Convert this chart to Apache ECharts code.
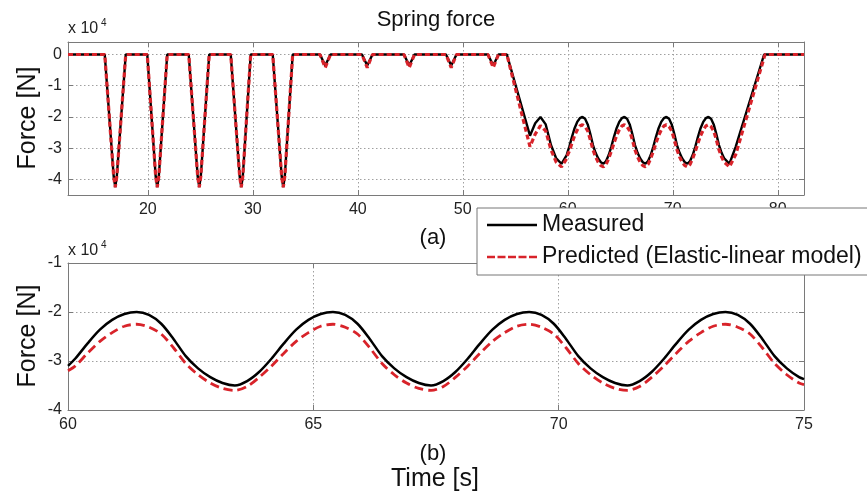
<!DOCTYPE html>
<html>
<head>
<meta charset="utf-8">
<script src="https://cdn.jsdelivr.net/npm/echarts@6/dist/echarts.min.js"></script>
<style>
  html, body { margin: 0; padding: 0; background: #fff; }
  #main { width: 867px; height: 497px; }
</style>
</head>
<body>
<div id="main"></div>
<script>
// Spring force record, values in units of 10^4 N, time in s.

// Part of the record before the zoomed window (12.4 s – 59.9 s)
const earlyTime = [12.4, 15.9, 16.75, 16.9, 17.05, 17.9, 19.95, 20.75, 20.9, 21.05, 21.85,
  23.9, 24.75, 24.9, 25.05, 25.85, 27.9, 28.75, 28.9, 29.05, 29.8, 31.9, 32.75, 32.9, 33.05, 33.8,
  36.4, 36.9, 37.4, 40.4, 40.9, 41.4, 44.4, 44.9, 45.4, 48.4, 48.9, 49.4, 52.4, 52.9, 53.4,
  54.2, 56.4, 56.9, 57.4, 57.9, 58.4, 58.9, 59.4, 59.9];
const earlyMeasured = [0, 0, -3.9, -4.25, -3.9, 0, 0, -3.9, -4.25, -3.9, 0,
  0, -3.9, -4.25, -3.9, 0, 0, -3.9, -4.25, -3.9, 0, 0, -3.9, -4.25, -3.9, 0,
  0, -0.35, 0, 0, -0.35, 0, 0, -0.35, 0, 0, -0.35, 0, 0, -0.35, 0,
  0, -2.6, -2.2, -2.0, -2.24, -2.9, -3.33, -3.5, -3.22];
const earlyPredicted = [0, 0, -3.9, -4.25, -3.9, 0, 0, -3.9, -4.25, -3.9, 0,
  0, -3.9, -4.25, -3.9, 0, 0, -3.9, -4.25, -3.9, 0, 0, -3.9, -4.25, -3.9, 0,
  0, -0.42, 0, 0, -0.42, 0, 0, -0.42, 0, 0, -0.42, 0, 0, -0.42, 0,
  0, -2.95, -2.55, -2.28, -2.45, -3.05, -3.45, -3.6, -3.33];

// Zoomed window (60 s – 75 s), shown in panel (b)
const zoomTime = [60, 60.15, 60.4, 60.65, 60.9, 61.15, 61.4, 61.65, 61.9, 62.15, 62.4, 62.65,
  62.9, 63.15, 63.4, 63.65, 63.9, 64.15, 64.4, 64.65, 64.9, 65.15, 65.4, 65.65, 65.9, 66.15,
  66.4, 66.65, 66.9, 67.15, 67.4, 67.65, 67.9, 68.15, 68.4, 68.65, 68.9, 69.15, 69.4, 69.65,
  69.9, 70.15, 70.4, 70.65, 70.9, 71.15, 71.4, 71.65, 71.9, 72.15, 72.4, 72.65, 72.9, 73.15,
  73.4, 73.65, 73.9, 74.15, 74.4, 74.65, 74.9, 75];
const zoomMeasured = [-3.10, -2.95, -2.64, -2.36, -2.16, -2.04,
  -2.00, -2.06, -2.24, -2.55, -2.90, -3.15, -3.33, -3.45, -3.50, -3.41, -3.22, -2.95, -2.64, -2.36, -2.16, -2.04,
  -2.00, -2.06, -2.24, -2.55, -2.90, -3.15, -3.33, -3.45, -3.50, -3.41, -3.22, -2.95, -2.64, -2.36, -2.16, -2.04,
  -2.00, -2.06, -2.24, -2.55, -2.90, -3.15, -3.33, -3.45, -3.50, -3.41, -3.22, -2.95, -2.64, -2.36, -2.16, -2.04,
  -2.00, -2.06, -2.24, -2.55, -2.90, -3.15, -3.33, -3.37];
const zoomPredicted = [-3.20, -3.10, -2.84, -2.60, -2.42, -2.29,
  -2.25, -2.31, -2.45, -2.73, -3.05, -3.28, -3.45, -3.56, -3.60, -3.52, -3.33, -3.10, -2.84, -2.60, -2.42, -2.29,
  -2.25, -2.31, -2.45, -2.73, -3.05, -3.28, -3.45, -3.56, -3.60, -3.52, -3.33, -3.10, -2.84, -2.60, -2.42, -2.29,
  -2.25, -2.31, -2.45, -2.73, -3.05, -3.28, -3.45, -3.56, -3.60, -3.52, -3.33, -3.10, -2.84, -2.60, -2.42, -2.29,
  -2.25, -2.31, -2.45, -2.73, -3.05, -3.28, -3.45, -3.48];

// Part after the zoomed window (75.4 s – 82.5 s)
const lateTime = [75.4, 76.0, 78.7, 78.8, 82.5];
const lateMeasured = [-3.5, -2.95, 0, 0, 0];
const latePredicted = [-3.6, -3.2, -0.1, 0, 0];

const seriesNames = ['Measured', 'Predicted (Elastic-linear model)'];

const FONT = "'Liberation Sans', Arial, Helvetica, sans-serif";
const RED = '#d8232a';
const AXIS_GREY = '#7a7a7a';

// Legend keys: a solid bar and a dashed bar, 50 px long
const SOLID_KEY = 'path://M0,0h50v2.6h-50z';
const DASHED_KEY = 'path://M0,0h8v2.6h-8z M10.5,0h8v2.6h-8z M21,0h8v2.6h-8z M31.5,0h8v2.6h-8z M42,0h8v2.6h-8z';

const pairs = (t, v) => t.map((x, i) => [x, v[i]]);
const fullMeasured = pairs(earlyTime, earlyMeasured)
  .concat(pairs(zoomTime, zoomMeasured), pairs(lateTime, lateMeasured));
const fullPredicted = pairs(earlyTime, earlyPredicted)
  .concat(pairs(zoomTime, zoomPredicted), pairs(lateTime, latePredicted));

const gridLine = { show: true, lineStyle: { color: '#a0a0a0', width: 1, type: [1.5, 2.5] } };
const axisLine = { show: true, onZero: false, lineStyle: { color: AXIS_GREY, width: 1 } };
const tick = { show: true, inside: true, length: 5, lineStyle: { color: AXIS_GREY } };
const label = { color: '#222', fontSize: 16, fontFamily: FONT };

function mainAxis(gridIndex, position, range, extra) {
  return Object.assign({
    type: 'value', gridIndex, position,
    min: range[0], max: range[1],
    axisLine, axisTick: tick, splitLine: gridLine,
    axisLabel: Object.assign({ margin: 7, showMinLabel: false, showMaxLabel: false }, label)
  }, extra || {});
}
function mirrorAxis(gridIndex, position, range, extra) {
  return Object.assign({
    type: 'value', gridIndex, position,
    min: range[0], max: range[1],
    axisLine, axisTick: tick,
    axisLabel: { show: false }, splitLine: { show: false }
  }, extra || {});
}

const topX = [12.4, 82.5], topY = [-4.5, 0.4];
const botX = [60, 75], botY = [-4, -1];

const chart = echarts.init(document.getElementById('main'), null, { renderer: 'canvas' });
chart.setOption({
  animation: false,
  backgroundColor: '#fff',
  grid: [
    { left: 68, top: 42, width: 736, height: 153, show: false },
    { left: 68, top: 263, width: 736, height: 147, show: false }
  ],
  xAxis: [
    mainAxis(0, 'bottom', topX),
    mirrorAxis(0, 'top', topX),
    mainAxis(1, 'bottom', botX, {
      interval: 5,
      axisLabel: Object.assign({ margin: 7 }, label)
    }),
    mirrorAxis(1, 'top', botX, { interval: 5 })
  ],
  yAxis: [
    mainAxis(0, 'left', topY, {
      axisLabel: Object.assign({ margin: 6, showMinLabel: false, showMaxLabel: false }, label)
    }),
    mirrorAxis(0, 'right', topY),
    mainAxis(1, 'left', botY, {
      interval: 1,
      axisLabel: Object.assign({ margin: 6 }, label)
    }),
    mirrorAxis(1, 'right', botY, { interval: 1 })
  ],
  legend: {
    orient: 'vertical',
    left: 477, top: 208,
    padding: [5, 10, 6, 10],
    itemWidth: 50, itemHeight: 14, itemGap: 8,
    backgroundColor: '#fff',
    borderColor: '#777', borderWidth: 1, borderRadius: 0,
    textStyle: { fontSize: 23, lineHeight: 24, color: '#111', fontFamily: FONT },
    data: [
      { name: seriesNames[0], icon: SOLID_KEY, itemStyle: { color: '#000' } },
      { name: seriesNames[1], icon: DASHED_KEY, itemStyle: { color: RED } }
    ],
    z: 10
  },
  series: [
    {
      name: seriesNames[0], type: 'line', xAxisIndex: 0, yAxisIndex: 0,
      data: fullMeasured, symbol: 'none', z: 2,
      lineStyle: { color: '#000', width: 2.4 }, itemStyle: { color: '#000' }
    },
    {
      name: seriesNames[1], type: 'line', xAxisIndex: 0, yAxisIndex: 0,
      data: fullPredicted, symbol: 'none', z: 3,
      lineStyle: { color: RED, width: 3.2, type: [5, 3] }, itemStyle: { color: RED }
    },
    {
      name: seriesNames[0], type: 'line', xAxisIndex: 2, yAxisIndex: 2,
      data: pairs(zoomTime, zoomMeasured), symbol: 'none', smooth: 0.3, z: 2,
      lineStyle: { color: '#000', width: 2.5 }, itemStyle: { color: '#000' }
    },
    {
      name: seriesNames[1], type: 'line', xAxisIndex: 2, yAxisIndex: 2,
      data: pairs(zoomTime, zoomPredicted), symbol: 'none', smooth: 0.3, z: 3,
      lineStyle: { color: RED, width: 2.8, type: [9, 5] }, itemStyle: { color: RED }
    }
  ],
  graphic: [
    { type: 'text', style: { x: 436, y: 20, text: 'Spring force', align: 'center', verticalAlign: 'middle',
        font: '22px ' + FONT, fill: '#111' } },
    { type: 'text', style: { x: 68, y: 29, text: 'x 10', verticalAlign: 'middle', font: '16px ' + FONT, fill: '#222' } },
    { type: 'text', style: { x: 101, y: 23, text: '4', verticalAlign: 'middle', font: '10px ' + FONT, fill: '#222' } },
    { type: 'text', style: { x: 68, y: 251, text: 'x 10', verticalAlign: 'middle', font: '16px ' + FONT, fill: '#222' } },
    { type: 'text', style: { x: 101, y: 245, text: '4', verticalAlign: 'middle', font: '10px ' + FONT, fill: '#222' } },
    { type: 'text', x: 28, y: 118, rotation: Math.PI / 2,
      style: { x: 0, y: 0, text: 'Force [N]', align: 'center', verticalAlign: 'middle', font: '25px ' + FONT, fill: '#111' } },
    { type: 'text', x: 28, y: 336, rotation: Math.PI / 2,
      style: { x: 0, y: 0, text: 'Force [N]', align: 'center', verticalAlign: 'middle', font: '25px ' + FONT, fill: '#111' } },
    { type: 'text', style: { x: 433, y: 238, text: '(a)', align: 'center', verticalAlign: 'middle', font: '22px ' + FONT, fill: '#111' } },
    { type: 'text', style: { x: 433, y: 454, text: '(b)', align: 'center', verticalAlign: 'middle', font: '22px ' + FONT, fill: '#111' } },
    { type: 'text', style: { x: 435, y: 479, text: 'Time [s]', align: 'center', verticalAlign: 'middle', font: '25px ' + FONT, fill: '#111' } }
  ]
});
</script>
</body>
</html>
